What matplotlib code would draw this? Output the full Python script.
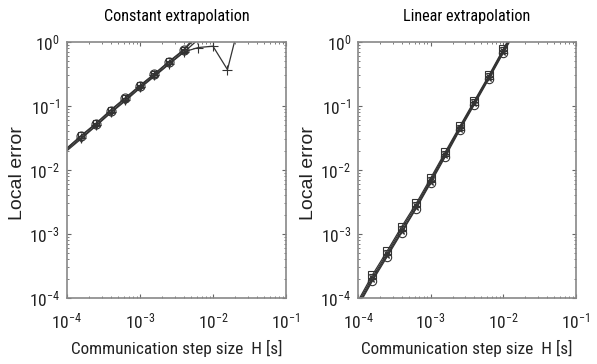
import matplotlib
matplotlib.use('Agg')
import matplotlib.pyplot as plt
from matplotlib.ticker import LogLocator, NullFormatter

plt.rcParams['font.family'] = ['Roboto Condensed', 'Liberation Sans', 'DejaVu Sans']
plt.rcParams['mathtext.fontset'] = 'custom'
plt.rcParams['mathtext.rm'] = 'Roboto Condensed'
plt.rcParams['mathtext.it'] = 'Roboto Condensed'

# communication step sizes H [s]
H = [1.0e-4, 1.58e-4, 2.51e-4, 3.98e-4, 6.31e-4, 1.0e-3, 1.58e-3,
     2.51e-3, 3.98e-3, 6.31e-3, 1.0e-2, 1.58e-2, 2.51e-2]

# constant extrapolation, local error
const_plus = [0.021, 0.032, 0.050, 0.080, 0.125, 0.195, 0.30, 0.46, 0.70, 0.82, 0.86, 0.37, 3.0]
const_circle = [0.022, 0.034, 0.053, 0.085, 0.132, 0.205, 0.315, 0.49, 0.74, 1.3]
const_square = [0.022, 0.035, 0.054, 0.087, 0.135, 0.21, 0.32, 0.50, 0.76, 1.4]
const_tri = [0.020, 0.031, 0.049, 0.078, 0.12, 0.19, 0.29, 0.45, 0.69, 1.1]

# linear extrapolation, local error
lin_square = [9.0e-5, 2.3e-4, 5.4e-4, 1.3e-3, 3.0e-3, 7.5e-3, 1.9e-2, 4.8e-2, 1.2e-1, 3.0e-1, 7.8e-1, 2.0]
lin_tri = [8.4e-5, 2.1e-4, 5.0e-4, 1.2e-3, 2.8e-3, 7.0e-3, 1.8e-2, 4.6e-2, 1.15e-1, 2.9e-1, 7.5e-1, 1.9]
lin_circle = [7.4e-5, 1.85e-4, 4.4e-4, 1.05e-3, 2.5e-3, 6.3e-3, 1.6e-2, 4.2e-2, 1.05e-1, 2.65e-1, 6.8e-1, 1.7]
lin_star = [7.8e-5, 1.95e-4, 4.7e-4, 1.1e-3, 2.6e-3, 6.6e-3, 1.7e-2, 4.4e-2, 1.1e-1, 2.75e-1, 7.1e-1, 1.8]

line_col = '#333333'

fig = plt.figure(figsize=(5.97, 3.64), dpi=100)
ax1 = fig.add_axes([0.1122, 0.1813, 0.3668, 0.7033])
ax2 = fig.add_axes([0.5997, 0.1813, 0.3652, 0.7033])

mk = dict(mfc='none', mec=line_col, mew=0.8, lw=0.9, color=line_col)

# left panel
ax1.plot(H[:len(const_plus)], const_plus, marker='+', ms=7, markevery=slice(1, None), **mk)
ax1.plot(H[:len(const_circle)], const_circle, marker='o', ms=6.5, markevery=slice(1, 9), **mk)
ax1.plot(H[:len(const_square)], const_square, marker='s', ms=5, markevery=slice(1, 9), **mk)
ax1.plot(H[:len(const_tri)], const_tri, marker='v', ms=5, markevery=slice(1, 9), **mk)
ax1.set_title('Constant extrapolation', fontsize=11.7, pad=15)

# right panel
ax2.plot(H[:len(lin_square)], lin_square, marker='s', ms=5.5, markevery=slice(1, 11), **mk)
ax2.plot(H[:len(lin_tri)], lin_tri, marker='v', ms=5, markevery=slice(1, 11), **mk)
ax2.plot(H[:len(lin_circle)], lin_circle, marker='o', ms=6, markevery=slice(1, 11), **mk)
ax2.plot(H[:len(lin_star)], lin_star, marker='*', ms=5, markevery=slice(1, 11), **mk)
ax2.set_title('Linear extrapolation', fontsize=11.7, pad=15)

for ax in (ax1, ax2):
    ax.set_xscale('log')
    ax.set_yscale('log')
    ax.set_xlim(1e-4, 1e-1)
    ax.set_ylim(1e-4, 1e0)
    ax.set_xticks([1e-4, 1e-3, 1e-2, 1e-1])
    ax.set_yticks([1e-4, 1e-3, 1e-2, 1e-1, 1e0])
    ax.xaxis.set_minor_locator(LogLocator(base=10, subs=range(2, 10)))
    ax.yaxis.set_minor_locator(LogLocator(base=10, subs=range(2, 10)))
    ax.xaxis.set_minor_formatter(NullFormatter())
    ax.yaxis.set_minor_formatter(NullFormatter())
    ax.tick_params(which='both', direction='in', top=True, right=True,
                   labelsize=12.5, colors='#666666', labelcolor='#222222')
    ax.tick_params(axis='x', which='major', length=3, pad=10)
    ax.tick_params(axis='y', which='major', length=3, pad=5)
    ax.tick_params(which='minor', length=1.5)
    for s in ax.spines.values():
        s.set_color('#888888')
        s.set_linewidth(1.2)
    ax.set_xlabel('Communication step size  H [s]', fontsize=12.4, labelpad=6, color='#222222')
    ax.set_ylabel('Local error', fontsize=14, color='#222222', va='center',
                  fontfamily=['Liberation Sans', 'DejaVu Sans'])
    ax.yaxis.set_label_coords(-0.225, 0.49)

fig.savefig('out.png', dpi=100)
